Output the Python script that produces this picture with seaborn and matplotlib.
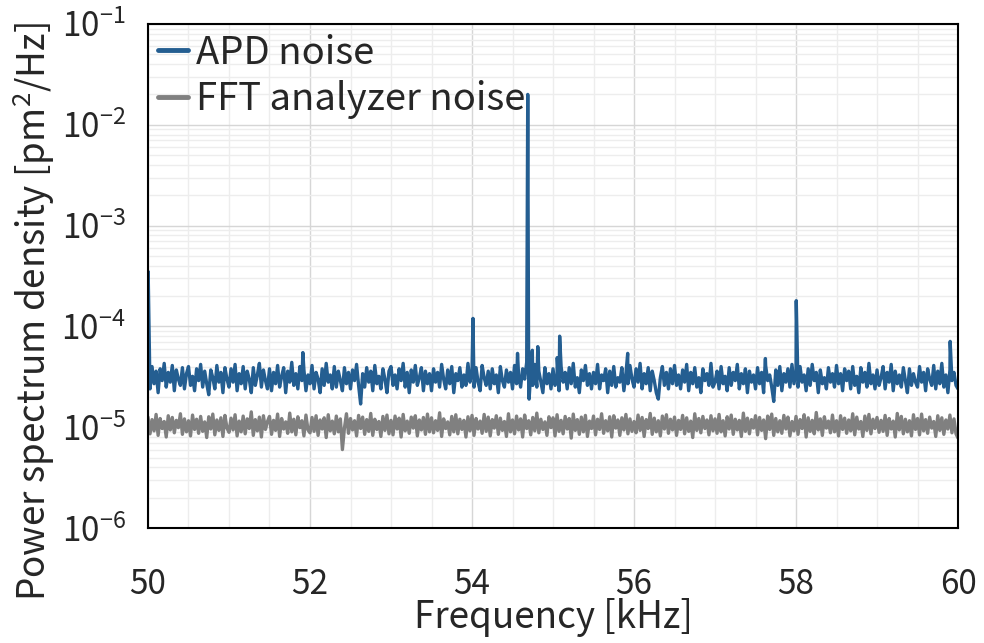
import numpy as np
import pandas as pd
import matplotlib
matplotlib.use("Agg")
import matplotlib.pyplot as plt
from matplotlib.ticker import LogLocator, MultipleLocator, NullFormatter
import seaborn as sns

# Frequency grid of the noise floor [kHz]
freq_start, freq_step = 50.0, 0.025

# APD noise floor, in units of 1e-6 pm^2/Hz (one row per 0.5 kHz)
apd_floor = [
    33, 24, 40, 27, 36, 22, 38, 29, 43, 25, 35, 28, 41, 23, 37, 30, 26, 39, 24, 34,
    40, 26, 32, 23, 38, 29, 42, 25, 36, 27, 21, 37, 31, 24, 41, 28, 35, 22, 39, 30,
    25, 38, 28, 42, 23, 34, 27, 40, 24, 36, 30, 22, 39, 26, 33, 43, 25, 37, 29, 24,
    38, 23, 35, 27, 41, 25, 32, 39, 22, 36, 28, 44, 26, 34, 24, 40, 29, 37, 23, 33,
    27, 41, 24, 35, 30, 22, 38, 26, 43, 28, 33, 24, 40, 25, 36, 29, 23, 39, 27, 35,
    24, 37, 29, 42, 26, 17, 34, 25, 39, 28, 36, 23, 41, 27, 32, 24, 38, 30, 22, 36,
    40, 26, 33, 24, 38, 29, 43, 25, 35, 22, 37, 28, 41, 26, 31, 39, 23, 36, 27, 34,
    23, 38, 28, 35, 25, 42, 30, 24, 37, 27, 40, 22, 34, 29, 39, 25, 33, 26, 43, 28,
    36, 25, 39, 28, 23, 41, 31, 26, 36, 24, 38, 27, 33, 22, 40, 29, 25, 37, 28, 35,
    24, 41, 27, 33, 25, 38, 30, 44, 23, 35, 26, 42, 25, 36, 28, 22, 39, 27, 34, 24,
    38, 26, 32, 23, 40, 28, 35, 24, 39, 27, 43, 25, 31, 22, 37, 29, 41, 26, 34, 24,
    35, 27, 42, 24, 33, 29, 38, 22, 36, 26, 40, 25, 31, 28, 39, 23, 34, 27, 41, 30,
    25, 38, 28, 43, 24, 34, 27, 39, 23, 36, 29, 22, 19, 31, 40, 26, 35, 24, 38, 27,
    41, 26, 33, 24, 37, 28, 42, 23, 35, 27, 39, 25, 31, 22, 38, 29, 34, 26, 43, 25,
    28, 36, 24, 40, 27, 32, 23, 39, 26, 35, 29, 42, 24, 34, 27, 38, 22, 36, 28, 33,
    24, 39, 27, 35, 22, 41, 29, 33, 25, 18, 37, 26, 40, 23, 34, 28, 38, 25, 42, 27,
    36, 25, 40, 28, 33, 23, 38, 26, 42, 29, 35, 22, 37, 27, 31, 24, 39, 28, 34, 25,
    41, 27, 34, 23, 38, 29, 36, 24, 40, 26, 32, 22, 39, 28, 35, 25, 43, 27, 33, 24,
    37, 26, 31, 40, 24, 35, 28, 42, 23, 36, 27, 33, 25, 39, 29, 22, 38, 26, 34, 28,
    25, 40, 28, 35, 23, 38, 30, 26, 41, 24, 36, 27, 43, 25, 33, 22, 37, 29, 35, 26,
    24,
]

# Narrow lines on top of the APD floor
apd_peak_freq = [50.002, 51.912, 54.012, 54.562, 54.688, 54.705, 54.745, 54.812,
                 55.052, 55.082, 55.922, 57.622, 58.003, 59.903]
apd_peak_val = [3.5e-4, 5.5e-5, 1.2e-4, 5.4e-5, 2.0e-2, 1.9e-5, 5.8e-5, 6.3e-5,
                4.9e-5, 8.0e-5, 5.4e-5, 4.8e-5, 1.8e-4, 7.1e-5]

# FFT analyzer noise floor, in units of 1e-6 pm^2/Hz (one row per 0.5 kHz)
fft_floor = [
    12.6, 8.6, 11.9, 9.2, 13.4, 8.3, 12.2, 9.7, 11.4, 8.0, 13.0, 9.4, 12.5, 8.8, 11.7, 9.9, 13.6, 8.5, 12.1, 9.0,
    11.6, 8.2, 13.2, 9.5, 12.0, 8.7, 12.8, 9.1, 11.3, 7.9, 12.7, 9.6, 13.5, 8.4, 11.8, 9.3, 12.4, 8.1, 13.1, 9.8,
    8.9, 12.3, 9.4, 13.3, 8.2, 11.5, 9.0, 12.9, 8.6, 12.1, 9.7, 14.2, 8.3, 11.9, 9.2, 12.6, 8.0, 13.0, 9.5, 11.4,
    12.8, 8.5, 11.7, 9.3, 13.5, 8.1, 12.2, 9.6, 11.3, 8.7, 13.8, 9.0, 12.0, 8.4, 12.7, 9.9, 11.6, 8.2, 13.2, 9.4,
    8.8, 12.5, 9.1, 13.0, 8.3, 11.8, 9.6, 12.4, 7.9, 13.3, 9.2, 11.5, 8.6, 12.9, 9.0, 12.1, 6.0, 9.8, 13.6, 8.7,
    12.2, 9.4, 11.6, 8.2, 13.1, 9.7, 12.6, 8.5, 11.9, 9.1, 13.7, 8.3, 12.0, 9.5, 11.4, 8.1, 12.8, 9.3, 13.2, 8.6,
    11.7, 8.4, 12.9, 9.6, 12.3, 8.0, 13.4, 9.2, 11.5, 8.7, 12.6, 9.8, 13.0, 8.2, 11.8, 9.4, 12.5, 8.5, 13.5, 9.0,
    12.4, 8.8, 11.6, 9.3, 13.9, 8.1, 12.1, 9.7, 11.3, 8.4, 12.8, 9.0, 13.3, 8.6, 12.0, 9.5, 11.7, 8.0, 12.7, 9.2,
    13.1, 8.3, 12.2, 9.6, 11.5, 8.7, 13.4, 9.1, 12.6, 8.2, 11.9, 9.8, 13.0, 8.5, 12.3, 9.3, 11.4, 8.1, 13.6, 9.0,
    11.8, 8.6, 12.9, 9.4, 12.1, 8.0, 13.2, 9.7, 11.6, 8.4, 12.5, 9.2, 13.8, 8.8, 12.0, 9.5, 11.3, 8.3, 12.7, 9.9,
    12.4, 8.2, 13.3, 9.1, 11.7, 8.6, 12.8, 9.6, 12.2, 7.8, 13.5, 9.3, 11.9, 8.5, 12.6, 9.0, 13.1, 8.1, 11.5, 9.7,
    12.9, 8.4, 12.0, 9.5, 13.6, 8.7, 11.6, 9.2, 12.7, 8.0, 13.0, 9.8, 11.8, 8.3, 12.4, 9.4, 13.4, 8.6, 12.1, 9.1,
    11.4, 8.8, 13.2, 9.3, 12.5, 8.1, 11.9, 9.7, 13.7, 8.5, 12.3, 9.0, 11.6, 8.2, 12.9, 9.6, 13.3, 8.7, 12.0, 9.4,
    12.6, 8.3, 11.7, 9.5, 13.1, 8.6, 12.4, 9.1, 11.5, 7.9, 13.6, 9.3, 12.2, 8.8, 12.8, 9.7, 11.8, 8.4, 13.0, 9.2,
    12.1, 8.7, 13.4, 9.0, 11.6, 8.2, 12.7, 9.6, 13.2, 8.5, 12.0, 9.4, 11.7, 8.1, 13.8, 9.1, 12.3, 8.6, 11.9, 9.8,
    13.0, 8.4, 12.5, 9.3, 11.8, 7.7, 12.9, 9.5, 13.5, 8.3, 12.2, 9.0, 11.6, 8.7, 13.1, 9.6, 12.6, 8.2, 11.4, 9.2,
    12.8, 8.5, 11.9, 9.7, 13.3, 8.0, 12.4, 9.1, 11.7, 8.6, 14.0, 9.4, 12.1, 8.3, 12.7, 9.8, 11.5, 8.8, 13.2, 9.0,
    11.6, 8.2, 13.0, 9.5, 12.3, 8.7, 11.8, 9.2, 13.6, 8.4, 12.6, 9.6, 11.4, 8.1, 12.9, 9.3, 13.4, 8.6, 12.0, 9.7,
    12.5, 8.9, 11.7, 9.1, 13.1, 8.3, 12.2, 9.6, 11.5, 8.0, 13.7, 9.4, 12.8, 8.6, 12.0, 9.0, 11.6, 8.2, 13.3, 9.5,
    12.2, 8.4, 13.5, 9.2, 11.9, 8.7, 12.6, 9.8, 11.4, 8.1, 13.0, 9.3, 12.4, 8.5, 11.8, 9.6, 13.2, 8.8, 12.1, 8.6,
    7.8,
]

series_names = ["APD noise", "FFT analyzer noise"]
series_colors = ["#245e91", "#808080"]
y_ticks = [1e-6, 1e-5, 1e-4, 1e-3, 1e-2, 1e-1]
y_tick_labels = ["$10^{-6}$", "$10^{-5}$", "$10^{-4}$", "$10^{-3}$", "$10^{-2}$", "$10^{-1}$"]
x_ticks = [50, 52, 54, 56, 58, 60]

# ---- assemble long-form table ----
grid = freq_start + freq_step * np.arange(len(apd_floor))
apd_f = np.concatenate([grid, apd_peak_freq])
apd_v = np.concatenate([np.array(apd_floor) * 1e-6, apd_peak_val])
order = np.argsort(apd_f)
apd = pd.DataFrame({"f": apd_f[order], "psd": apd_v[order], "series": series_names[0]})
fft = pd.DataFrame({"f": freq_start + freq_step * np.arange(len(fft_floor)),
                    "psd": np.array(fft_floor) * 1e-6, "series": series_names[1]})
df = pd.concat([apd, fft], ignore_index=True)

# ---- style ----
sns.set_style("white")
font = "Noto Sans CJK JP"
plt.rcParams["font.family"] = [font, "DejaVu Sans"]
plt.rcParams["mathtext.fontset"] = "custom"
plt.rcParams["mathtext.rm"] = font
plt.rcParams["mathtext.it"] = font
plt.rcParams["mathtext.bf"] = font
plt.rcParams["axes.unicode_minus"] = False

fig = plt.figure(figsize=(9.84, 6.43), dpi=100)
ax = fig.add_axes([0.1504, 0.1788, 0.8232, 0.7839])

sns.lineplot(data=df, x="f", y="psd", hue="series", palette=series_colors,
             estimator=None, sort=False, linewidth=2.4, ax=ax, legend=True)

ax.set_yscale("log")
ax.set_xlim(50, 60)
ax.set_ylim(1e-6, 1e-1)

ax.set_yticks(y_ticks)
ax.set_yticklabels(y_tick_labels)
ax.yaxis.set_minor_locator(LogLocator(base=10, subs=np.arange(2, 10)))
ax.yaxis.set_minor_formatter(NullFormatter())
ax.set_xticks(x_ticks)
ax.xaxis.set_minor_locator(MultipleLocator(0.5))

ax.grid(True, which="major", color="#d6d6d6", linewidth=1.0)
ax.grid(True, which="minor", color="#ededed", linewidth=1.0)
ax.set_axisbelow(True)

ax.tick_params(axis="both", which="major", direction="in", labelsize=24,
               length=9, width=1.2, color="black")
ax.tick_params(axis="both", which="minor", direction="in", length=6, width=1.0)
ax.tick_params(axis="x", which="major", length=12, pad=28)
ax.tick_params(axis="x", which="minor", length=9)
ax.tick_params(axis="y", which="major", pad=16)

for s in ax.spines.values():
    s.set_color("black")
    s.set_linewidth(1.5)

ax.set_xlabel("Frequency [kHz]", fontsize=26.5, labelpad=-3)
ax.set_ylabel("Power spectrum density [pm$^2$/Hz]", fontsize=26.5, labelpad=3,
              y=0.43)

handles, labels = ax.get_legend_handles_labels()
for h in handles:
    h.set_linewidth(3.5)
ax.legend(handles, labels, loc="upper left", frameon=False, fontsize=27.5,
          handlelength=0.8, handletextpad=0.2, labelspacing=0.2,
          borderaxespad=0.15, borderpad=0.1)

fig.savefig("out.png", dpi=100)
